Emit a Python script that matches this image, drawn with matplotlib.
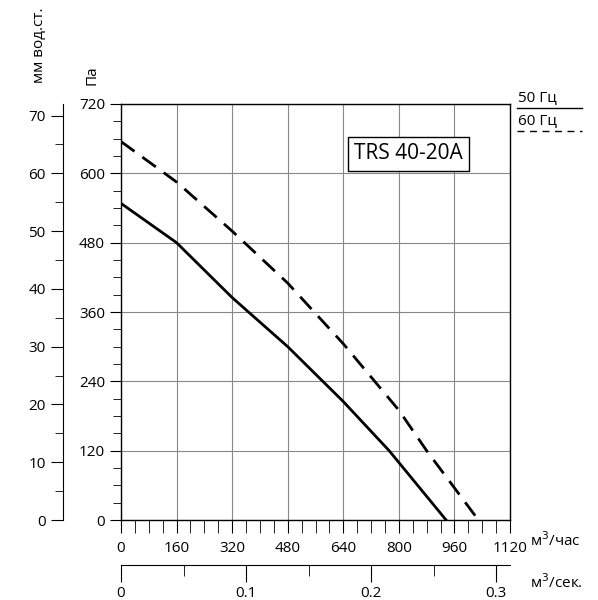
import matplotlib
matplotlib.use("Agg")
import matplotlib.pyplot as plt
from matplotlib.ticker import MultipleLocator
from matplotlib.lines import Line2D

q50 = [0, 160, 320, 480, 640, 772, 936]
p50 = [548, 480, 385, 300, 205, 120, 0]
q60 = [0, 160, 320, 480, 640, 800, 880, 1029]
p60 = [655, 585, 500, 410, 305, 190, 120, 0]
xticks = [0, 160, 320, 480, 640, 800, 960, 1120]
yticks = [0, 120, 240, 360, 480, 600, 720]
mmticks = [0, 10, 20, 30, 40, 50, 60, 70]
sticks = [0, 0.1, 0.2, 0.3]

plt.rcParams['font.family'] = ['Open Sans', 'DejaVu Sans']
W, H = 598, 600
fig = plt.figure(figsize=(W/100, H/100), dpi=100)
L, B, Wd, Ht = 121/W, 80/H, 389/W, 416/H
ax = fig.add_axes([L, B, Wd, Ht])
ax.plot(q50, p50, color='black', lw=2)
ax.plot(q60, p60, color='black', lw=2, ls=(0, (6, 3.5)))
ax.set_xlim(0, 1120); ax.set_ylim(0, 720)
ax.set_xticks(xticks); ax.set_yticks(yticks)
ax.xaxis.set_minor_locator(MultipleLocator(40))
ax.yaxis.set_minor_locator(MultipleLocator(30))
ax.grid(True, color='#888888', lw=0.8)
ax.tick_params(which='both', direction='out', labelsize=11)
ax.tick_params(axis='x', which='major', length=9, pad=6)
ax.tick_params(axis='x', which='minor', length=9)
ax.tick_params(axis='y', which='major', length=8)
ax.tick_params(axis='y', which='minor', length=6)
for s in ax.spines.values():
    s.set_linewidth(1.0)
ax.text(0.6, 0.88, 'TRS 40-20A', transform=ax.transAxes, fontsize=15,
        va='center', ha='left',
        bbox=dict(boxstyle='square,pad=0.3', fc='white', ec='black', lw=1))

# mm w.c. axis
am = fig.add_axes([63/W, B, 0.001, Ht])
am.set_ylim(0, 72)
am.set_yticks(mmticks)
am.yaxis.set_minor_locator(MultipleLocator(5))
am.set_xticks([])
for k in ['top', 'right', 'bottom']:
    am.spines[k].set_visible(False)
am.tick_params(which='both', direction='out', labelsize=11)
am.tick_params(which='major', length=9)
am.tick_params(which='minor', length=6)
am.patch.set_visible(False)

# m3/s axis
asx = fig.add_axes([L, 35/H, Wd, 0.001])
asx.set_xlim(0, 1120/3600)
asx.set_xticks(sticks)
asx.set_xticklabels(['0', '0.1', '0.2', '0.3'])
asx.xaxis.set_minor_locator(MultipleLocator(0.05))
asx.set_yticks([])
for k in ['top', 'right', 'left']:
    asx.spines[k].set_visible(False)
asx.tick_params(which='both', direction='out', labelsize=11)
asx.tick_params(which='major', length=12, pad=3)
asx.tick_params(which='minor', length=8)
asx.patch.set_visible(False)

fig.text(530/W, 1-541/H, 'м$^3$/час', fontsize=11, va='center')
fig.text(530/W, 1-583/H, 'м$^3$/сек.', fontsize=11, va='center')
fig.text(92/W, 1-75/H, 'Па', fontsize=11, rotation=90, ha='center', va='center')
fig.text(40/W, 1-45/H, 'мм вод.ст.', fontsize=11, rotation=90, ha='center', va='center')

fig.text(518/W, 1-98/H, '50 Гц', fontsize=11, va='center')
fig.add_artist(Line2D([517/W, 582/W], [1-108/H]*2, color='black', lw=1))
fig.text(518/W, 1-121/H, '60 Гц', fontsize=11, va='center')
fig.add_artist(Line2D([517/W, 582/W], [1-131/H]*2, color='black', lw=1, ls=(0, (5, 4))))

fig.savefig('out.png', dpi=100)
